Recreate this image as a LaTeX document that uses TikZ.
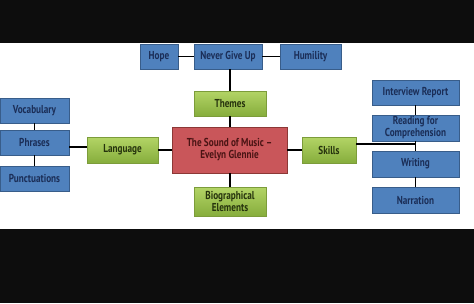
\documentclass[tikz,border=0pt]{standalone}
\usepackage{fontspec}
\setmainfont{PT Sans}[FakeStretch=0.8, BoldFont={PT Sans Bold}, BoldFeatures={FakeStretch=0.8}]
\usetikzlibrary{shadows,calc}
\definecolor{bluefill}{HTML}{4F81BD}
\definecolor{blueline}{HTML}{385D8A}
\definecolor{bluetext}{HTML}{1B2E57}
\definecolor{redfill}{HTML}{C9565A}
\definecolor{redline}{HTML}{8C3836}
\definecolor{redtext}{HTML}{4A1414}
\definecolor{greentop}{HTML}{B3D466}
\definecolor{greenbot}{HTML}{86AD3C}
\definecolor{greenline}{HTML}{7C9C3A}
\definecolor{greentext}{HTML}{26330D}
\tikzset{
  base/.style={draw, line width=0.9pt, inner sep=1pt, align=center,
    font=\bfseries\fontsize{11.5}{12}\selectfont,
    drop shadow={opacity=0.25, shadow xshift=1pt, shadow yshift=-1pt}},
  bluebox/.style={base, fill=bluefill, draw=blueline, text=bluetext},
  greenbox/.style={base, draw=greenline, top color=greentop, bottom color=greenbot, text=greentext},
  redbox/.style={base, fill=redfill, draw=redline, text=redtext},
  link/.style={line width=1.8pt, black},
}
\begin{document}
\begin{tikzpicture}[x=1pt,y=-1pt]
\useasboundingbox (0,0) rectangle (474,303);
\fill[black!95] (0,0) rectangle (474,43);
\fill[black!95] (0,229) rectangle (474,303);
\fill[white] (0,43) rectangle (474,229);

\node[bluebox, minimum width=38pt, minimum height=25pt] (hope) at (159,56.5) {Hope};
\node[bluebox, minimum width=68pt, minimum height=25pt] (never) at (228,56.5) {Never Give Up};
\node[bluebox, minimum width=61pt, minimum height=25pt] (humility) at (310.5,56.5) {Humility};
\node[greenbox, minimum width=72pt, minimum height=25pt] (themes) at (230,103.5) {Themes};

\node[bluebox, minimum width=69pt, minimum height=25pt] (vocab) at (34.5,110.5) {Vocabulary};
\node[bluebox, minimum width=69pt, minimum height=25pt] (phrases) at (34.5,142.5) {Phrases};
\node[bluebox, minimum width=69pt, minimum height=25pt] (punct) at (34.5,178.5) {Punctuations};
\node[greenbox, minimum width=71pt, minimum height=26pt] (language) at (122.5,150) {Language};

\node[redbox, minimum width=115pt, minimum height=46pt] (center) at (229.5,150) {The Sound of Music –\\Evelyn Glennie};
\node[greenbox, minimum width=72pt, minimum height=29pt] (bio) at (230,201.5) {Biographical\\Elements};
\node[greenbox, minimum width=54pt, minimum height=26pt] (skills) at (329,150) {Skills};

\node[bluebox, minimum width=87pt, minimum height=25pt] (interview) at (415.5,92.5) {Interview Report};
\node[bluebox, minimum width=87pt, minimum height=26pt] (reading) at (415.5,128) {Reading for\\Comprehension};
\node[bluebox, minimum width=87pt, minimum height=26pt] (writing) at (415.5,164) {Writing};
\node[bluebox, minimum width=87pt, minimum height=26pt] (narration) at (415.5,200) {Narration};

\draw[link] (hope) -- (never);
\draw[link] (never) -- (humility);
\draw[link] (never.south -| themes.north) -- (themes.north);
\draw[link] (themes) -- (center.north -| themes.south);
\draw[link] (center.south -| bio.north) -- (bio.north);
\draw[link] (vocab) -- (phrases);
\draw[link] (phrases) -- (punct);
\coordinate (ph) at ([yshift=-4.5pt]phrases.east);
\draw[link] (ph) -- (ph -| language.west);
\draw[link] (language) -- (center);
\draw[link] (center) -- (skills);
\draw[link] (interview) -- (reading);
\draw[link] (reading) -- (writing);
\draw[link] (writing) -- (narration);
\coordinate (sk) at ([yshift=6pt]skills.east);
\draw[link] (sk) -- (sk -| reading.south);
\end{tikzpicture}
\end{document}
